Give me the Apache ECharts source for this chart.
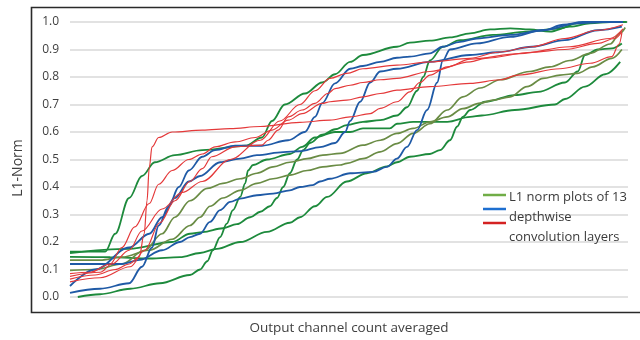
<!DOCTYPE html>
<html>
<head>
<meta charset="utf-8">
<script src="https://cdn.jsdelivr.net/npm/echarts@6/dist/echarts.min.js"></script>
<style>
  html, body { margin: 0; padding: 0; background: #ffffff; }
  #chart { width: 640px; height: 340px; }
</style>
</head>
<body>
<div id="chart"></div>
<script>
// L1 norm curves of 13 depthwise convolution layers.
// Each curve: [output channel position (% of channels, averaged), L1-norm].
const layerG1 = [[0,.165],[6.3,.165],[8.1,.23],[10.6,.36],[12.9,.44],[15.2,.49],[18.8,.516],[23.7,.534],[31.4,.55],[34.4,.58],[36.2,.64],[38.5,.70],[42.1,.74],[45.2,.78],[47.5,.81],[50.2,.855],[52.5,.88],[58.6,.91],[60.9,.925],[64.5,.932],[68.1,.944],[71.7,.959],[75.3,.973],[78.9,.977],[82.4,.973],[86.0,.965],[89.6,.983],[93.2,.995],[96.8,1.0],[99.8,1.0]];
const layerG2 = [[0,.16],[10.6,.175],[18.3,.20],[21.5,.23],[23.8,.236],[27.4,.25],[29.9,.265],[32.3,.29],[34.1,.31],[35.8,.33],[37.1,.36],[38.2,.40],[39.4,.45],[40.7,.50],[41.8,.534],[43.0,.56],[45.2,.59],[47.5,.61],[49.6,.625],[52.5,.637],[55.6,.643],[58.6,.66],[60.4,.69],[62.2,.75],[63.3,.80],[64.5,.86],[66.8,.91],[69.9,.934],[75.8,.953],[81.9,.965],[87.8,.977],[90.9,.995],[94.4,1.0],[99.1,1.0]];
const layerG3 = [[0,.146],[7.2,.145],[14.3,.14],[19.7,.145],[23.3,.16],[26.3,.175],[30.5,.20],[35.3,.237],[39.4,.27],[41.2,.29],[43.9,.33],[46.1,.364],[49.6,.42],[53.2,.45],[56.8,.475],[58.6,.49],[60.9,.51],[64.5,.52],[66.3,.534],[68.1,.57],[69.4,.62],[70.4,.655],[71.7,.68],[74.4,.71],[79.7,.734],[83.9,.746],[88.7,.78],[91.0,.82],[92.3,.88],[94.6,.90],[97.1,.904],[98.9,.922]];
const layerG4 = [[1.4,0],[5.4,.01],[10.8,.03],[16.1,.05],[21.5,.08],[23.3,.10],[24.6,.13],[25.6,.17],[26.9,.218],[28.1,.267],[29.2,.316],[30.5,.364],[31.4,.413],[31.9,.46],[32.8,.48],[35.3,.50],[39.4,.52],[41.6,.546],[43.9,.58],[47.5,.60],[50.2,.60],[52.5,.613],[57.3,.613],[58.6,.63],[61.5,.637],[67.6,.637],[71.7,.655],[73.8,.66],[79.7,.68],[86.9,.70],[88.7,.72],[92.3,.765],[95.9,.81],[98.6,.855]];
const layerO1 = [[0,.134],[5.4,.134],[9.3,.145],[14.2,.17],[18.3,.21],[21.5,.26],[23.3,.29],[25.1,.33],[27.4,.36],[30.5,.388],[33.5,.413],[36.4,.43],[39.4,.443],[42.5,.46],[45.3,.473],[48.4,.48],[49.6,.486],[52.5,.503],[55.6,.528],[58.6,.558],[61.5,.595],[64.5,.63],[67.6,.68],[70.4,.728],[73.5,.76],[77.1,.79],[82.4,.82],[86.0,.837],[89.6,.86],[93.2,.886],[96.8,.92],[98.6,.96],[99.5,.98]];
const layerO2 = [[0,.097],[4.5,.10],[9.3,.12],[13.4,.17],[16.5,.23],[18.8,.29],[21.5,.35],[24.6,.395],[27.4,.413],[30.5,.43],[33.5,.45],[36.4,.473],[39.4,.49],[42.5,.503],[45.3,.516],[48.4,.522],[52.5,.552],[55.6,.57],[58.6,.595],[61.5,.613],[64.5,.637],[67.6,.655],[70.4,.685],[73.5,.705],[75.8,.716],[78.9,.728],[81.9,.765],[84.8,.795],[87.8,.807],[90.9,.813],[93.7,.837],[97.1,.868],[98.9,.90]];
const layerB1 = [[0,.04],[4.5,.10],[10.6,.18],[14.2,.23],[16.5,.29],[18.8,.36],[21.3,.42],[23.3,.44],[26.9,.49],[30.5,.503],[33.5,.516],[38.2,.527],[41.2,.53],[44.8,.545],[47.5,.56],[49.3,.60],[50.2,.64],[52.0,.71],[53.8,.78],[55.6,.82],[58.6,.83],[64.5,.855],[71.7,.88],[76.7,.89],[82.8,.91],[88.7,.934],[94.6,.97],[98.9,.983]];
const layerB2 = [[0,.015],[5.4,.03],[10.6,.05],[12.9,.11],[14.7,.18],[15.9,.26],[17.7,.33],[19.5,.40],[21.3,.46],[23.7,.51],[26.0,.534],[29.6,.55],[34.4,.55],[39.1,.57],[42.1,.60],[43.9,.655],[45.2,.705],[47.5,.777],[50.2,.83],[52.5,.84],[55.6,.855],[58.6,.87],[60.9,.874],[64.5,.886],[66.8,.91],[69.9,.928],[72.9,.94],[78.9,.953],[84.8,.97],[88.4,.99],[91.9,1.0],[99.1,1.0]];
const layerB3 = [[0,.12],[9.3,.12],[12.5,.135],[16.5,.17],[19.7,.20],[21.5,.218],[23.3,.23],[25.1,.273],[26.9,.316],[28.7,.346],[30.5,.358],[33.5,.37],[36.4,.376],[39.4,.388],[41.2,.40],[43.5,.407],[44.8,.42],[46.6,.43],[50.2,.45],[54.3,.455],[56.8,.473],[58.6,.503],[60.4,.546],[62.2,.607],[64.0,.68],[65.8,.78],[66.8,.86],[68.1,.90],[72.9,.922],[78.9,.946],[84.8,.97],[90.9,.995],[95.5,1.0],[99.1,1.0]];
const layerR1 = [[0,.065],[4.5,.08],[8.1,.10],[10.6,.12],[12.4,.146],[13.3,.23],[13.8,.35],[14.2,.47],[14.7,.546],[15.9,.58],[18.3,.60],[23.7,.607],[28.7,.612],[34.1,.62],[41.2,.635],[46.6,.643],[50.2,.655],[53.8,.667],[55.6,.686],[58.6,.71],[60.9,.746],[62.7,.78],[64.5,.807],[67.6,.837],[71.7,.865],[80.6,.885],[89.6,.91],[96.8,.94],[99.1,.975]];
const layerR2 = [[0,.085],[3.6,.09],[7.2,.12],[9.3,.18],[11.6,.255],[14.2,.34],[15.9,.41],[18.3,.46],[21.3,.50],[23.7,.52],[26.0,.546],[29.6,.564],[33.2,.58],[36.2,.607],[39.1,.643],[41.6,.667],[45.2,.704],[46.6,.71],[49.6,.716],[52.5,.728],[55.6,.74],[58.6,.752],[64.5,.765],[71.7,.777],[77.1,.79],[80.3,.807],[87.8,.83],[93.2,.85],[97.1,.874],[98.4,.92],[98.9,.96]];
const layerR3 = [[0,.055],[5.4,.07],[10.8,.11],[13.4,.17],[16.1,.27],[18.8,.35],[21.5,.42],[23.7,.467],[25.4,.51],[29.6,.546],[34.4,.552],[35.5,.57],[37.3,.607],[39.1,.655],[41.6,.68],[43.9,.704],[46.2,.74],[47.5,.758],[50.2,.77],[52.5,.78],[55.6,.79],[58.6,.795],[64.5,.82],[71.7,.855],[74.4,.868],[82.8,.89],[88.7,.90],[94.6,.922],[97.6,.94],[98.9,.965]];
const layerR4 = [[0,.075],[5.4,.09],[7.5,.12],[10.6,.17],[12.9,.24],[16.5,.32],[20.1,.38],[23.7,.42],[28.7,.50],[34.1,.57],[37.6,.64],[41.2,.70],[43.9,.75],[46.6,.795],[49.6,.813],[52.5,.83],[58.6,.843],[64.5,.855],[71.7,.868],[76.7,.89],[82.8,.91],[88.7,.94],[94.6,.97],[99.1,.99]];

const layerCurves = [layerG1, layerG2, layerG3, layerG4, layerO1, layerO2, layerB1, layerB2, layerB3, layerR1, layerR2, layerR3, layerR4];
const layerKinds  = ['green','green','green','green','olive','olive','blue','blue','blue','red','red','red','red'];

const yTickLabels = ['0.0','0.1','0.2','0.3','0.4','0.5','0.6','0.7','0.8','0.9','1.0'];
const yTitle = 'L1-Norm';
const xTitle = 'Output channel count averaged';
const legendLines = ['L1 norm plots of 13', 'depthwise', 'convolution layers'];

const strokeByKind = {
  green: { color: '#1d8a3c', width: 1.8 },
  olive: { color: '#6a8c45', width: 1.7 },
  blue:  { color: '#1f5aa6', width: 1.8 },
  red:   { color: '#e4393a', width: 1.2 }
};
const legendSwatches = ['#70ad47', '#1e6fd0', '#d42222'];
const textColor = '#404040';
const fontFamily = '"Open Sans", "Noto Sans", sans-serif';

const chart = echarts.init(document.getElementById('chart'), null, { renderer: 'canvas' });

const series = layerCurves.map((pts, i) => {
  const st = strokeByKind[layerKinds[i]];
  return {
    type: 'line',
    name: 'layer ' + (i + 1),
    data: pts,
    showSymbol: false,
    smooth: 0.35,
    smoothMonotone: 'x',
    lineStyle: { color: st.color, width: st.width },
    emphasis: { disabled: true },
    silent: true,
    z: layerKinds[i] === 'red' ? 3 : 2
  };
});

const graphics = [
  // outer frame
  { type: 'rect', shape: { x: 31.5, y: 7.5, width: 640, height: 305 }, style: { fill: 'none', stroke: '#2a2a2a', lineWidth: 1.6 }, z: 10 },
  // y-axis title
  { type: 'text', x: 18, y: 168, rotation: Math.PI / 2,
    style: { text: yTitle, fill: textColor, font: '14px ' + fontFamily, align: 'center', verticalAlign: 'middle' } },
  // x-axis title
  { type: 'text', x: 349, y: 328,
    style: { text: xTitle, fill: textColor, font: '13.5px ' + fontFamily, align: 'center', verticalAlign: 'middle' } }
];
// legend swatches and text
[195, 209, 223].forEach((y, i) => {
  graphics.push({ type: 'line', shape: { x1: 483, y1: y, x2: 506, y2: y }, style: { stroke: legendSwatches[i], lineWidth: 2.5 }, z: 12 });
});
[197, 217, 237].forEach((y, i) => {
  graphics.push({ type: 'text', x: 509, y: y, z: 12,
    style: { text: legendLines[i], fill: '#3a3a3a', font: '13px ' + fontFamily, align: 'left', verticalAlign: 'middle' } });
});

chart.setOption({
  animation: false,
  backgroundColor: '#ffffff',
  grid: { left: 70, right: 12, top: 22, bottom: 43 },
  xAxis: {
    type: 'value', min: 0, max: 100,
    axisLine: { show: false }, axisTick: { show: false },
    axisLabel: { show: false }, splitLine: { show: false }
  },
  yAxis: {
    type: 'value', min: 0, max: 1, interval: 0.1,
    axisLine: { show: false }, axisTick: { show: false },
    axisLabel: {
      color: textColor, fontSize: 12, fontFamily: fontFamily, margin: 11,
      formatter: v => yTickLabels[Math.round(v * 10)]
    },
    splitLine: { lineStyle: { color: '#d9d9d9', width: 1.5 } }
  },
  series: series,
  graphic: graphics
});
</script>
</body>
</html>
